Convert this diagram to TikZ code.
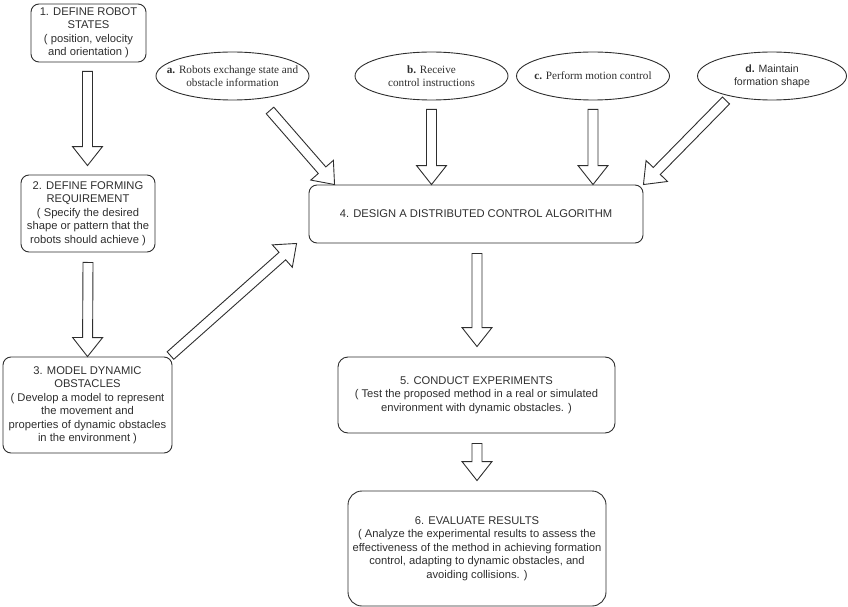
\documentclass[tikz,border=0pt]{standalone}
\usepackage{fontspec}
\setmainfont{Liberation Sans}
\newfontfamily\labelserif{Liberation Serif}
\usetikzlibrary{calc,shapes.geometric}
\definecolor{ink}{HTML}{2E2E2E}

% hollow block arrow from a tail point to a tip point
\newcommand\hollowarrow[2]{%
  \coordinate (ha-t) at #1;
  \coordinate (ha-h) at #2;
  \coordinate (ha-b) at ($(ha-h)!19pt!(ha-t)$);
  \draw[blockarrow]
    ($(ha-t)!5pt!90:(ha-h)$) -- ($(ha-b)!5pt!90:(ha-h)$) --
    ($(ha-b)!15pt!90:(ha-h)$) -- (ha-h) --
    ($(ha-b)!15pt!-90:(ha-h)$) -- ($(ha-b)!5pt!-90:(ha-h)$) --
    ($(ha-t)!5pt!-90:(ha-h)$) -- cycle;
}

\begin{document}
\begin{tikzpicture}[x=1pt,y=-1pt,
  stepbox/.style={draw=ink, line width=0.9pt, rounded corners=8pt, align=center,
    inner sep=0pt, text=ink, font=\fontsize{11.2}{13.5}\selectfont},
  taskoval/.style={draw=ink, line width=0.9pt, ellipse, inner sep=0pt,
    minimum width=153pt, minimum height=48pt},
  ovaltext/.style={align=center, inner sep=0pt, text=ink,
    font=\labelserif\fontsize{11.2}{13}\selectfont},
  blockarrow/.style={draw=ink, line width=0.9pt, line join=miter, fill=white}]

\useasboundingbox (0,0) rectangle (848,607);

% process steps
\node[stepbox, minimum width=115pt, minimum height=58pt] (s1) at (88.5,33)
  {1. DEFINE ROBOT\\STATES\\( position, velocity\\and orientation )};
\node[stepbox, minimum width=134pt, minimum height=77pt] (s2) at (88,213.5)
  {2. DEFINE FORMING\\REQUIREMENT\\( Specify the desired\\shape or pattern that the\\robots should achieve )};
\node[stepbox, minimum width=169pt, minimum height=96pt] (s3) at (87.5,405)
  {3. MODEL DYNAMIC\\OBSTACLES\\( Develop a model to represent\\the movement and\\properties of dynamic obstacles\\in the environment )};
\node[stepbox, minimum width=334pt, minimum height=58pt] (s4) at (476,214)
  {4. DESIGN A DISTRIBUTED CONTROL ALGORITHM};
\node[stepbox, rounded corners=10pt, minimum width=277pt, minimum height=76pt] (s5) at (476.5,395)
  {5. CONDUCT EXPERIMENTS\\( Test the proposed method in a real or simulated\\environment with dynamic obstacles. )};
\node[stepbox, rounded corners=14pt, minimum width=258pt, minimum height=115pt] (s6) at (477,548.5)
  {6. EVALUATE RESULTS\\( Analyze the experimental results to assess the\\effectiveness of the method in achieving formation\\control, adapting to dynamic obstacles, and\\avoiding collisions. )};

% inputs of the control algorithm: outline first, then its text
\node[taskoval] (a) at (232.5,76) {};
\node[ovaltext] (at) at (a) {\textbf{a.} Robots exchange state and\\obstacle information};
\node[taskoval] (b) at (431.5,76) {};
\node[ovaltext] (bt) at (b) {\textbf{b.} Receive\\control instructions};
\node[taskoval] (c) at (593,76) {};
\node[ovaltext] (ct) at (c) {\textbf{c.} Perform motion control};
\node[taskoval, minimum width=149pt] (d) at (772,76) {};
\node[ovaltext, font=\fontsize{10.6}{13}\selectfont] (dt) at (d) {\textbf{d.} Maintain\\formation shape};

% flow arrows
\hollowarrow{($(s1.south)+(-1,9)$)}{($(s2.north)+(-0.5,-9)$)}
\hollowarrow{($(s2.south)+(0,10)$)}{(s3.north)}
\hollowarrow{($(s3.north east)+(-2,-1)$)}{($(s4.south west)+(-12,0)$)}
\hollowarrow{($(a.south)+(37.5,10)$)}{($(s4.north west)+(26,0)$)}
\hollowarrow{($(b.south)+(0,9)$)}{(b.south |- s4.north)}
\hollowarrow{($(c.south)+(0,9)$)}{(c.south |- s4.north)}
\hollowarrow{($(d.south)+(-46,0)$)}{(s4.north east)}
\hollowarrow{($(s4.south)+(1,10)$)}{($(s5.north)+(0.5,-10)$)}
\hollowarrow{($(s5.south)+(0.5,10)$)}{($(s6.north)+(0,-10)$)}

\end{tikzpicture}
\end{document}
